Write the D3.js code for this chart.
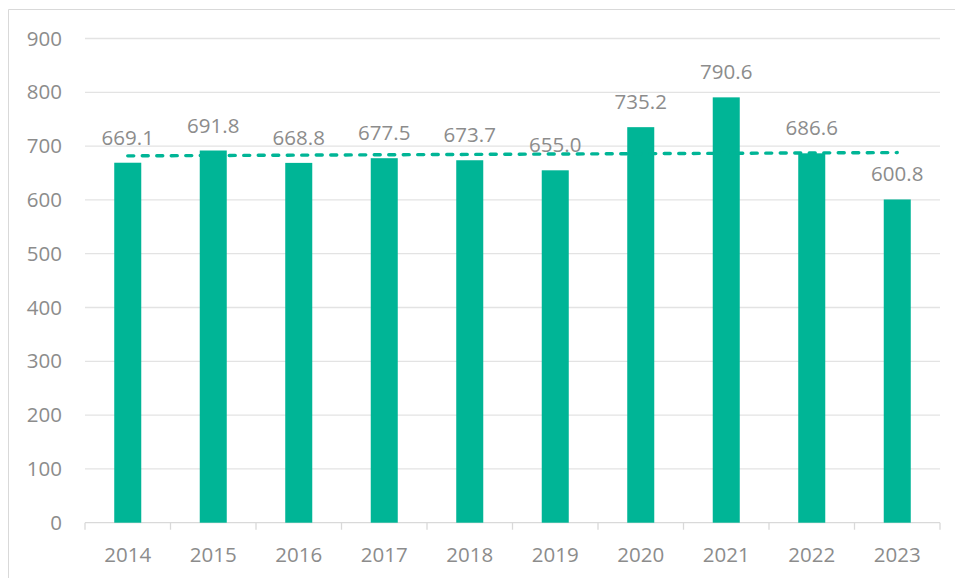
<!DOCTYPE html>
<html>
<head>
<meta charset="utf-8">
<script src="https://cdn.jsdelivr.net/npm/d3@7"></script>
<style>
  body { margin: 0; background: #fff; }
  text { font-family: "Open Sans", sans-serif; fill: #8c8c8c; }
</style>
</head>
<body>
<svg id="chart"></svg>
<script>
// data
const years = ['2014','2015','2016','2017','2018','2019','2020','2021','2022','2023'];
const values = [669.1, 691.8, 668.8, 677.5, 673.7, 655.0, 735.2, 790.6, 686.6, 600.8];
const yTicks = [0,100,200,300,400,500,600,700,800,900];

const width = 955, height = 578;
const margins = { top: 38.5, bottom: 55.3, left: 85, right: 15 };
const barColor = '#00b596';
const fontSize = 20.5;

const svg = d3.select('#chart').attr('width', width).attr('height', height);

// outer frame
svg.append('path')
   .attr('d', `M8.5,${height} V9.5 H${width}`)
   .attr('fill', 'none')
   .attr('stroke', '#d9d9d9')
   .attr('stroke-width', 1);

const x = d3.scaleBand()
            .domain(years)
            .range([margins.left, width - margins.right])
            .paddingInner(0.684)
            .paddingOuter(0.342);

const y = d3.scaleLinear()
            .domain([0, 900])
            .range([height - margins.bottom, margins.top]);

// gridlines
svg.append('g')
   .selectAll('line')
   .data(yTicks.filter(d => d > 0))
   .join('line')
   .attr('x1', margins.left)
   .attr('x2', width - margins.right)
   .attr('y1', d => y(d))
   .attr('y2', d => y(d))
   .attr('stroke', '#e3e3e3')
   .attr('stroke-width', 1.3);

// y labels
svg.append('g')
   .selectAll('text')
   .data(yTicks)
   .join('text')
   .attr('x', 62)
   .attr('y', d => y(d))
   .attr('dy', '0.35em')
   .attr('text-anchor', 'end')
   .attr('font-size', fontSize)
   .text(d => d);

// x axis: baseline plus ticks between categories
const xAxis = svg.append('g');
xAxis.append('line')
     .attr('x1', margins.left).attr('x2', width - margins.right)
     .attr('y1', y(0)).attr('y2', y(0))
     .attr('stroke', '#d9d9d9').attr('stroke-width', 1.3);
const step = x.step();
const bounds = d3.range(years.length + 1).map(i => margins.left + i * step);
xAxis.selectAll('line.tick')
     .data(bounds)
     .join('line')
     .attr('class', 'tick')
     .attr('x1', d => d).attr('x2', d => d)
     .attr('y1', y(0)).attr('y2', y(0) + 7)
     .attr('stroke', '#d9d9d9').attr('stroke-width', 1.3);
xAxis.selectAll('text')
     .data(years)
     .join('text')
     .attr('x', d => x(d) + x.bandwidth() / 2)
     .attr('y', 562)
     .attr('text-anchor', 'middle')
     .attr('font-size', fontSize)
     .text(d => d);

// bars
svg.append('g')
   .selectAll('rect')
   .data(values)
   .join('rect')
   .attr('x', (d, i) => x(years[i]))
   .attr('width', x.bandwidth())
   .attr('y', d => y(d))
   .attr('height', d => y(0) - y(d))
   .attr('fill', barColor);

// linear trendline (least squares over index)
const n = values.length;
const mx = (n - 1) / 2;
const my = d3.mean(values);
const slope = d3.sum(values, (v, i) => (i - mx) * (v - my)) / d3.sum(values, (v, i) => (i - mx) * (i - mx));
const trend = values.map((v, i) => ({ year: years[i], value: my + slope * (i - mx) }));

const line = d3.line()
               .x(d => x(d.year) + x.bandwidth() / 2)
               .y(d => y(d.value));

svg.append('path')
   .datum([trend[0], trend[n - 1]])
   .attr('d', line)
   .attr('fill', 'none')
   .attr('stroke', barColor)
   .attr('stroke-width', 3.4)
   .attr('stroke-linecap', 'round')
   .attr('stroke-dasharray', '6,8.5');

// value labels
svg.append('g')
   .selectAll('text')
   .data(values)
   .join('text')
   .attr('x', (d, i) => x(years[i]) + x.bandwidth() / 2)
   .attr('y', d => y(d) - 18)
   .attr('text-anchor', 'middle')
   .attr('font-size', fontSize)
   .text(d => d.toFixed(1));
</script>
</body>
</html>
